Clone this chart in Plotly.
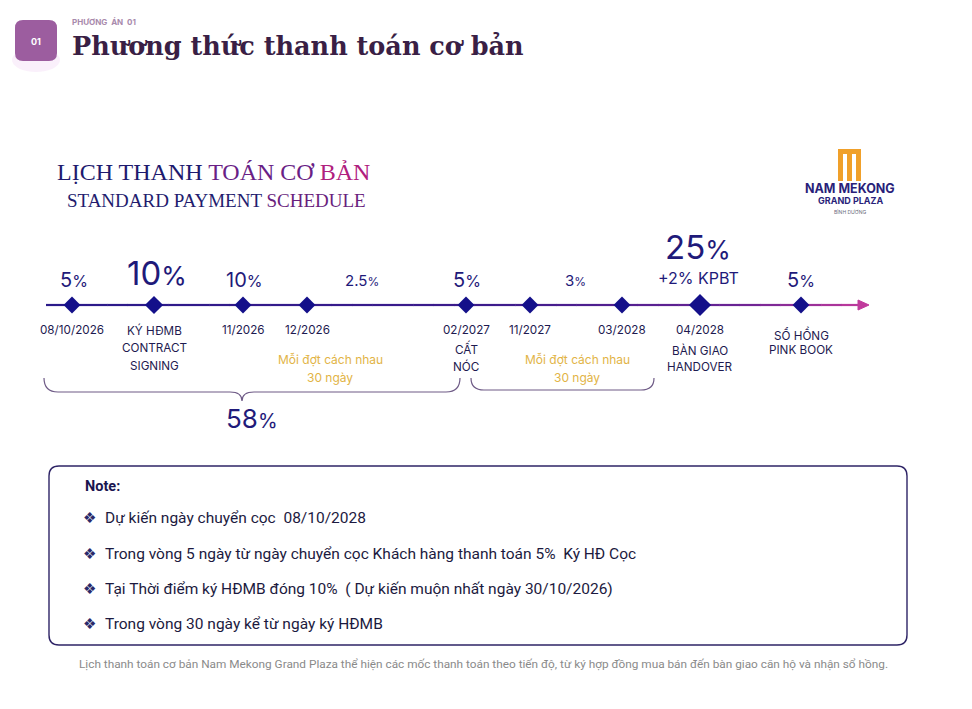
import plotly.graph_objects as go

# ---------------- data ----------------
milestone_x = [72, 154, 243, 307, 466, 530, 622, 700, 801]
milestone_labels = [
    ["08/10/2026"],
    ["KÝ HĐMB", "CONTRACT", "SIGNING"],
    ["11/2026"],
    ["12/2026"],
    ["02/2027", "CẤT", "NÓC"],
    ["11/2027"],
    ["03/2028"],
    ["04/2028", "BÀN GIAO", "HANDOVER"],
    ["SỔ HỒNG", "PINK BOOK"],
]
pct_values = ["5", "10", "10", "2.5", "5", "3", "25", "5"]
pct_x = [74, 157, 244, 362, 467, 575, 698, 801]
pct_extra = ["", "", "", "", "", "", "+2% KPBT", ""]
interval_note = ["Mỗi đợt cách nhau", "30 ngày"]
interval_x = [330, 577]
group_total = "58"
notes = [
    "Dự kiến ngày chuyển cọc  08/10/2028",
    "Trong vòng 5 ngày từ ngày chuyển cọc Khách hàng thanh toán 5%  Ký HĐ Cọc",
    "Tại Thời điểm ký HĐMB đóng 10%  ( Dự kiến muộn nhất ngày 30/10/2026)",
    "Trong vòng 30 ngày kể từ ngày ký HĐMB",
]
footer = ("Lịch thanh toán cơ bản Nam Mekong Grand Plaza thể hiện các mốc thanh toán theo tiến độ, "
          "từ ký hợp đồng mua bán đến bàn giao căn hộ và nhận sổ hồng.")

# ---------------- styling ----------------
W, H = 972, 709
OFF = 8  # page body margin
NAVY = "#1f1a7a"
DARK = "#231c52"
SANS = "Inter, Noto Sans, sans-serif"
SERIF = "Liberation Serif, DejaVu Serif, serif"
LINE_Y = 305

fig = go.Figure()
shapes = []
ann = []


def text(x, y, s, size, color=DARK, family=SANS, xanchor="center", yanchor="middle"):
    ann.append(dict(x=x, y=y, text=s, showarrow=False, xref="x", yref="y",
                    xanchor=xanchor, yanchor=yanchor,
                    font=dict(size=size, color=color, family=family)))


def lerp_color(c1, c2, t):
    a = [int(c1[i:i + 2], 16) for i in (1, 3, 5)]
    b = [int(c2[i:i + 2], 16) for i in (1, 3, 5)]
    return "#" + "".join(f"{int(a[k] + (b[k] - a[k]) * t):02x}" for k in range(3))


# timeline line with gradient
x0, x1 = 46, 862
n = 40
stops = [(0.0, "#2a1a8a"), (0.55, "#3d1c8c"), (0.85, "#6a2494"), (1.0, "#c03a9c")]
for i in range(n):
    t = (i + 0.5) / n
    for j in range(len(stops) - 1):
        if stops[j][0] <= t <= stops[j + 1][0]:
            tt = (t - stops[j][0]) / (stops[j + 1][0] - stops[j][0])
            col = lerp_color(stops[j][1], stops[j + 1][1], tt)
            break
    xa = x0 + (x1 - x0) * i / n
    xb = x0 + (x1 - x0) * (i + 1) / n
    shapes.append(dict(type="line", x0=xa, x1=xb + 0.5, y0=LINE_Y, y1=LINE_Y, xref="x", yref="y",
                       line=dict(color=col, width=2.2), layer="below"))
# arrow head
shapes.append(dict(type="path", path=f"M 858,{LINE_Y-5} L 869,{LINE_Y} L 858,{LINE_Y+5} Z",
                   fillcolor="#c03a9c", line=dict(color="#c03a9c", width=1), xref="x", yref="y"))

# milestone markers
sizes = [13] * len(milestone_x)
sizes[1] = 14
sizes[7] = 17
fig.add_trace(go.Scatter(x=milestone_x, y=[LINE_Y] * len(milestone_x), mode="markers",
                         marker=dict(symbol="diamond", size=sizes, color="#14108a", opacity=1,
                                     line=dict(width=0)),
                         hoverinfo="skip", showlegend=False))

# milestone labels
for mx, lines in zip(milestone_x, milestone_labels):
    ys = [330, 348, 366]
    if lines[0] == "SỔ HỒNG":
        ys = [334, 350]
    if lines[0] == "04/2028":
        ys = [330, 350, 367]
    for k, s in enumerate(lines):
        text(mx, ys[k], s, 11.7, color="#1e1a50")

# percentages
pct_size = {"5": 20, "10": 20, "2.5": 15, "3": 15, "25": 33}
for i, (px, v) in enumerate(zip(pct_x, pct_values)):
    size = pct_size.get(v, 20)
    y = 280
    if i == 1:
        size, y = 33, 273
    if v == "25":
        y = 247
    s = f"{v}<span style='font-size:{int(size*0.8)}px'>%</span>"
    text(px, y, s, size, color=NAVY)
    if pct_extra[i]:
        text(px, 278, pct_extra[i], 16, color=NAVY)

# interval notes
for ix in interval_x:
    text(ix, 359, interval_note[0], 12, color="#e2b446")
    text(ix, 377, interval_note[1], 12, color="#e2b446")

# braces
brace_col = "#6e5a86"
shapes.append(dict(type="path",
                   path="M 44,378 Q 44,392 58,392 L 230,392 Q 242,392 242,401 "
                        "Q 242,392 254,392 L 446,392 Q 460,392 460,378",
                   line=dict(color=brace_col, width=1.2), xref="x", yref="y"))
shapes.append(dict(type="path",
                   path="M 471,378 Q 471,390 484,390 L 641,390 Q 654,390 654,378",
                   line=dict(color=brace_col, width=1.2), xref="x", yref="y"))
text(252, 418, f"{group_total}<span style='font-size:20px'>%</span>", 26, color=NAVY)

# header badge (soft glow + square)
shapes.append(dict(type="circle", x0=12, x1=60, y0=48, y1=72,
                   fillcolor="rgba(230,170,235,0.18)", line=dict(width=0), xref="x", yref="y"))
shapes.append(dict(type="path",
                   path="M 23,20 L 49,20 Q 57,20 57,28 L 57,53 Q 57,61 49,61 L 23,61 "
                        "Q 15,61 15,53 L 15,28 Q 15,20 23,20 Z",
                   fillcolor="#9c5d9f", line=dict(width=0), xref="x", yref="y"))
text(36, 41, "<b>01</b>", 9, color="white")
text(70, 22, "<b>PHƯƠNG  ÁN  01</b>", 8, color="#a88aac", xanchor="left")
text(70, 46, "<b>Phương thức thanh toán cơ bản</b>", 25.5, color="#3a1f45",
     family="DejaVu Serif, serif", xanchor="left")

# schedule heading
text(55, 172, "<span style='color:#1e1a6e'>LỊCH THANH </span>"
              "<span style='color:#6a1f86'>TOÁN CƠ </span>"
              "<span style='color:#b0207e'>BẢN</span>", 24, family=SERIF, xanchor="left")
text(65, 200, "<span style='color:#231c6e'>STANDARD PAYMENT </span>"
              "<span style='color:#6a1f7e'>SCHEDULE</span>", 19, family=SERIF, xanchor="left")

# logo
gold = "#f0a02a"
logo_bars = [(838, 843), (847, 852), (856, 861)]
for a, b in logo_bars:
    shapes.append(dict(type="rect", x0=a, x1=b, y0=152, y1=181, fillcolor=gold,
                       line=dict(width=0), xref="x", yref="y"))
shapes.append(dict(type="rect", x0=838, x1=861, y0=149, y1=154, fillcolor=gold,
                   line=dict(width=0), xref="x", yref="y"))
text(850, 188, "<b>NAM MEKONG</b>", 12.5, color="#2a1f7a")
text(850, 200, "<b>GRAND PLAZA</b>", 9, color="#2a1f7a")
text(850, 211, "BÌNH DƯƠNG", 5, color="#6a6a7a")

# note box
shapes.append(dict(type="path",
                   path="M 59,466 L 897,466 Q 907,466 907,476 L 907,635 Q 907,645 897,645 "
                        "L 59,645 Q 49,645 49,635 L 49,476 Q 49,466 59,466 Z",
                   line=dict(color="#2e2466", width=1.4), fillcolor="rgba(0,0,0,0)",
                   xref="x", yref="y"))
text(83, 486, "<b>Note:</b>", 14.5, color="#1a1650", family="Roboto", xanchor="left")
for k, s in enumerate(notes):
    y = [518, 554, 589, 624][k]
    text(81, y, "❖", 15, color="#2a2a6a", family="DejaVu Sans", xanchor="left")
    text(103, y, s, 15.5, color="#1c1a40", family="Roboto", xanchor="left")

# footer
text(483, 664, footer, 11.8, color="#8a8a8a", family="Roboto")

fig.update_layout(
    width=W - OFF, height=H - OFF, margin=dict(l=0, r=0, t=0, b=0),
    paper_bgcolor="white", plot_bgcolor="white",
    xaxis=dict(range=[OFF, W], visible=False, fixedrange=True),
    yaxis=dict(range=[H, OFF], visible=False, fixedrange=True),
    shapes=shapes, annotations=ann, showlegend=False,
)
fig.write_html("out.html")
